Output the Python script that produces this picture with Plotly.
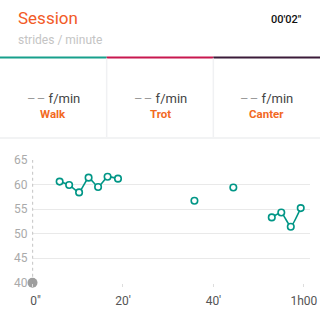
import plotly.graph_objects as go

# ---- data ----
walk_minutes = [6.0, 8.1, 10.3, 12.4, 14.5, 16.6, 18.9, None, 35.8, None, 44.4, None, 52.9, 55.0, 57.1, 59.3]
walk_rate = [60.6, 59.9, 58.4, 61.4, 59.5, 61.6, 61.2, None, 56.7, None, 59.4, None, 53.3, 54.3, 51.4, 55.2]
cursor_minute = [0]
cursor_rate = [40]
x_tick_vals = [0, 20, 40, 60]
x_tick_text = ['\u00a0\u00a00"', "20'", "40'", "1h00"]
y_tick_vals = [40, 45, 50, 55, 60, 65]
gait_names = ["Walk", "Trot", "Canter"]
gait_values = ["-- f/min", "-- f/min", "-- f/min"]
gait_colors = ["#17a08c", "#c8174e", "#3b1b38"]

W, H = 320, 322
TEAL = "#009686"
ORANGE = "#f26a1f"
FONT = "Roboto"

def py(p):
    return 1 - p / H

def px(p):
    return p / W

fig = go.Figure()
fig.add_trace(go.Scatter(
    x=walk_minutes, y=walk_rate, mode="lines+markers",
    line=dict(color=TEAL, width=1.6, shape="spline", smoothing=0.4),
    marker=dict(symbol="circle", size=6.5, color="white", line=dict(color=TEAL, width=1.6)),
    connectgaps=False, cliponaxis=False, hoverinfo="skip", showlegend=False,
))
fig.add_trace(go.Scatter(
    x=cursor_minute, y=cursor_rate, mode="markers",
    marker=dict(size=10, color="#9e9e9e"), cliponaxis=False,
    hoverinfo="skip", showlegend=False,
))

shapes = []
shapes.append(dict(type="line", xref="x", yref="y", x0=0, x1=0, y0=40, y1=65,
                   line=dict(color="#9a9a9a", width=1.2, dash="3px,3px"), layer="above"))
for i, c in enumerate(gait_colors):
    shapes.append(dict(type="line", xref="paper", yref="paper",
                       x0=px(i * W / 3), x1=px((i + 1) * W / 3), y0=py(57.5), y1=py(57.5),
                       line=dict(color=c, width=2)))
for i in (1, 2):
    shapes.append(dict(type="line", xref="paper", yref="paper",
                       x0=px(i * W / 3), x1=px(i * W / 3), y0=py(58.5), y1=py(137),
                       line=dict(color="#f0f1f3", width=1.5)))
shapes.append(dict(type="line", xref="paper", yref="paper", x0=0, x1=1,
                   y0=py(138), y1=py(138), line=dict(color="#eeeff1", width=1.5)))

ann = []
ann.append(dict(text="Session", x=px(16), y=py(17.5), xref="paper", yref="paper",
                xanchor="left", yanchor="middle", showarrow=False,
                font=dict(family=FONT, size=17, color="#f25a26")))
ann.append(dict(text="strides / minute", x=px(16), y=py(40), xref="paper", yref="paper",
                xanchor="left", yanchor="middle", showarrow=False,
                font=dict(family=FONT, size=12, color="#c4c4c4")))
ann.append(dict(text="00'02\"", x=px(304), y=py(19.5), xref="paper", yref="paper",
                xanchor="right", yanchor="middle", showarrow=False,
                font=dict(family=FONT, size=11, color="#111111", weight=500)))
for i, (n, v) in enumerate(zip(gait_names, gait_values)):
    cx = px((i + 0.5) * W / 3)
    ann.append(dict(text=v.replace("--", "<span style='color:#9a9a9a'>\u2013\u200a\u2013</span>"),
                    x=cx, y=py(99), xref="paper", yref="paper",
                    xanchor="center", yanchor="middle", showarrow=False,
                    font=dict(family=FONT, size=13, color="#444444")))
    ann.append(dict(text=n, x=cx, y=py(114), xref="paper", yref="paper",
                    xanchor="center", yanchor="middle", showarrow=False,
                    font=dict(family=FONT, size=11.5, color=ORANGE, weight="bold")))

fig.update_layout(
    width=W, height=H, margin=dict(l=0, r=0, t=0, b=0, autoexpand=False),
    paper_bgcolor="white", plot_bgcolor="white",
    font=dict(family=FONT),
    shapes=shapes, annotations=ann, showlegend=False,
    xaxis=dict(domain=[px(32.5), px(310)], range=[0, 61.35], showgrid=False, automargin=False,
               zeroline=False, showline=False, tickvals=x_tick_vals, ticktext=x_tick_text,
               ticks="outside", ticklen=3, tickcolor="#dddddd", tickwidth=1,
               ticklabelstandoff=4, tickfont=dict(size=12, color="#555555"), fixedrange=True),
    yaxis=dict(domain=[py(282.7), py(160)], range=[40, 65], showgrid=True, automargin=False,
               gridcolor="#e9e9e9", gridwidth=1, zeroline=False, showline=False,
               tickvals=y_tick_vals, ticks="", ticklabelstandoff=4,
               tickfont=dict(size=12, color="#aaaaaa"), fixedrange=True),
)

fig.write_html("out.html", config={"displayModeBar": False})
